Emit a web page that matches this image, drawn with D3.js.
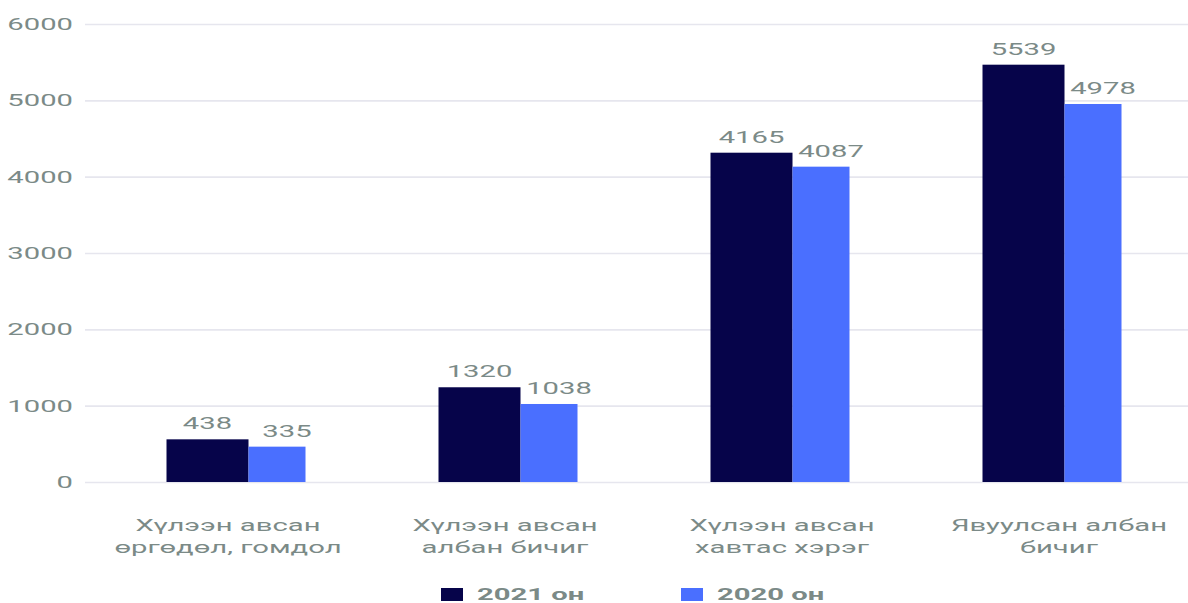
<!DOCTYPE html>
<html>
<head>
<meta charset="utf-8">
<script src="https://cdn.jsdelivr.net/npm/d3@7"></script>
<style>
  html, body { margin: 0; padding: 0; background: #fff; overflow: hidden; }
  svg { display: block; }
  text { font-family: Roboto, "Noto Sans", sans-serif; fill: #7b8a87; }
</style>
</head>
<body>
<script>
const w = 1188;
const h = 603;
// the picture is stretched sideways, so draw narrow and let the viewBox widen it
const sx = 1.72;
const X = v => v / sx;

const categories = [
  ["Хүлээн авсан", "өргөдөл, гомдол"],
  ["Хүлээн авсан", "албан бичиг"],
  ["Хүлээн авсан", "хавтас хэрэг"],
  ["Явуулсан албан", "бичиг"]
];
const catKeys = categories.map(c => c.join(" "));

// bar heights as drawn
const values2021 = [559, 1241, 4314, 5467];
const values2020 = [463, 1022, 4131, 4952];
// numbers printed above the bars
const labels2021 = ["438", "1320", "4165", "5539"];
const labels2020 = ["335", "1038", "4087", "4978"];

const yTicks = [0, 1000, 2000, 3000, 4000, 5000, 6000];
const seriesNames = ["2021 он", "2020 он"];
const colors = ["#06044a", "#4a6fff"];

const svg = d3.select("body")
  .append("svg")
  .attr("width", w)
  .attr("height", h)
  .attr("viewBox", `0 0 ${X(w)} ${h}`)
  .attr("preserveAspectRatio", "none");

const yScale = d3.scaleLinear()
  .domain([0, 6000])
  .range([482, 24]);

const xScale = d3.scaleBand()
  .domain(catKeys)
  .range([X(100), X(1188)]);

const xLabel = d3.scalePoint()
  .domain(catKeys)
  .range([X(228), X(1059)]);

// GRID + Y AXIS
const yAxis = svg.append("g")
  .attr("transform", `translate(${X(85)}, 0)`)
  .call(d3.axisLeft(yScale)
    .tickValues(yTicks)
    .tickFormat(d3.format("d"))
    .tickSize(-(X(w) - X(85)))
    .tickPadding(X(12)));

yAxis.select(".domain").remove();
yAxis.selectAll(".tick line")
  .attr("stroke", "#e6e6ee")
  .attr("stroke-width", 1.6);
yAxis.selectAll(".tick text")
  .attr("font-size", 17)
  .attr("fill", "#7b8a87")
  .attr("font-family", "Roboto, sans-serif");

// BARS
const darkW = X(82);
const blueW = X(57);
const barStart = d => xScale(d) + xScale.bandwidth() / 2 - X(69.5);

const groups = svg.append("g")
  .selectAll("g")
  .data(catKeys)
  .join("g");

groups.append("rect")
  .attr("x", d => barStart(d))
  .attr("y", (d, i) => yScale(values2021[i]))
  .attr("width", darkW)
  .attr("height", (d, i) => yScale(0) - yScale(values2021[i]))
  .attr("fill", colors[0]);

groups.append("rect")
  .attr("x", d => barStart(d) + darkW)
  .attr("y", (d, i) => yScale(values2020[i]))
  .attr("width", blueW)
  .attr("height", (d, i) => yScale(0) - yScale(values2020[i]))
  .attr("fill", colors[1]);

// VALUE LABELS
groups.append("text")
  .attr("x", d => barStart(d) + darkW / 2)
  .attr("y", (d, i) => yScale(values2021[i]) - 10)
  .attr("text-anchor", "middle")
  .attr("font-size", 17)
  .text((d, i) => labels2021[i]);

groups.append("text")
  .attr("x", d => barStart(d) + darkW + blueW / 2 + X(10))
  .attr("y", (d, i) => yScale(values2020[i]) - 10)
  .attr("text-anchor", "middle")
  .attr("font-size", 17)
  .text((d, i) => labels2020[i]);

// CATEGORY LABELS
const catText = svg.append("g")
  .selectAll("text")
  .data(categories)
  .join("text")
  .attr("x", (d, i) => xLabel(catKeys[i]))
  .attr("y", 531)
  .attr("text-anchor", "middle")
  .attr("font-size", 17);

catText.selectAll("tspan")
  .data(d => d)
  .join("tspan")
  .attr("x", function() { return this.parentNode.getAttribute("x"); })
  .attr("dy", (d, i) => i === 0 ? 0 : 22)
  .text(d => d);

// LEGEND
const legendX = [441, 681];
const legend = svg.append("g")
  .selectAll("g")
  .data(seriesNames)
  .join("g")
  .attr("transform", (d, i) => `translate(${X(legendX[i])}, 588)`);

legend.append("rect")
  .attr("width", X(22))
  .attr("height", 13)
  .attr("fill", (d, i) => colors[i]);

legend.append("text")
  .attr("x", X(36))
  .attr("y", 12)
  .attr("font-size", 17)
  .attr("font-weight", "bold")
  .attr("fill", "#2a2a2a")
  .text(d => d);
</script>
</body>
</html>
